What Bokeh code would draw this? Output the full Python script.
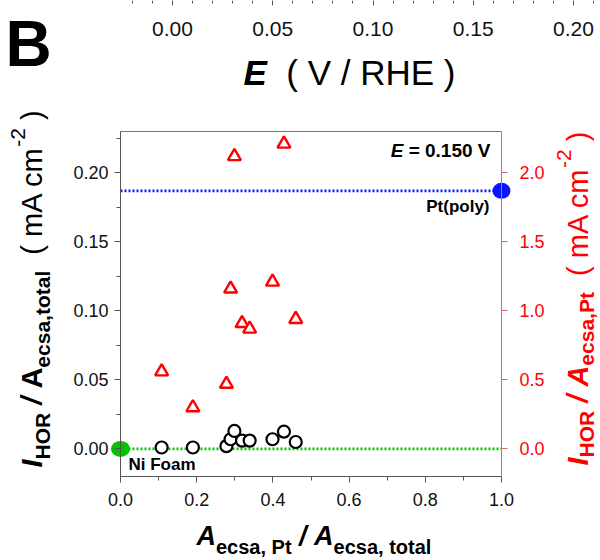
import math
from bokeh.plotting import figure
from bokeh.models import (Range1d, LinearAxis, SingleIntervalTicker, FixedTicker,
                          PrintfTickFormatter, Label)
from bokeh.embed import file_html
from bokeh.resources import INLINE

# ---------------- data ----------------
pt_ratio = [0.108, 0.190, 0.278, 0.289, 0.299, 0.319, 0.339, 0.399, 0.429, 0.460]
i_per_total = [0.001, 0.001, 0.002, 0.007, 0.013, 0.006, 0.006, 0.007, 0.0125, 0.005]
i_per_pt = [0.56, 0.30, 0.47, 1.16, 2.12, 0.91, 0.87, 1.21, 2.21, 0.94]
ref_span_x = [0.0, 1.0]
ni_foam_x = [0.0]
ni_foam_y = [0.0]
pt_poly_x = [1.0]
pt_poly_y = [0.187]
potential_text = "= 0.150 V"
top_axis_bounds = (-0.02, 0.2125)

FONT = "Liberation Sans"
RED = "#ff0000"
GREEN = "#00c400"
BLUE = "#0a14ff"
AX = "#555555"

# ---------------- geometry (page pixels) ----------------
CW, CH = 600, 560
FL, FR, FT, FB = 120, 501, 131, 476          # main plot frame
X0, X1 = 0.0, 1.0
Y0, Y1 = -0.02, 0.23
R0, R1 = -0.2, 2.3
TOP0_PX, TOP_PX_PER_UNIT = 172, 2005         # top strip axis mapping
BASE_FIX = 0.36                               # label anchor -> glyph baseline offset (em)

kx = (FR - FL) / (X1 - X0)
ky = (FB - FT) / (Y1 - Y0)
xr = Range1d(X0 - FL / kx, X1 + (CW - FR) / kx)
yr = Range1d(Y0 - (CH - FB) / ky, Y1 + FT / ky)
kr = (FB - FT) / (R1 - R0)

p = figure(width=CW, height=CH, x_range=xr, y_range=yr, x_axis_type=None, y_axis_type=None,
           output_backend="svg", toolbar_location=None, min_border=0)
p.outline_line_color = None
p.background_fill_color = "white"
p.border_fill_color = "white"
p.extra_y_ranges = {"right": Range1d(R0 - (CH - FB) / kr, R1 + FT / kr)}
p.extra_x_ranges = {"topx": Range1d(-TOP0_PX / TOP_PX_PER_UNIT, (CW - TOP0_PX) / TOP_PX_PER_UNIT)}


def style_axis(a, size="18px", color="#111111", line=AX):
    a.axis_line_color = line
    a.major_tick_line_color = line
    a.minor_tick_line_color = line
    a.major_tick_in = 0
    a.minor_tick_in = 0
    a.major_tick_out = 6
    a.minor_tick_out = 4
    a.major_label_text_font = FONT
    a.major_label_text_font_size = size
    a.major_label_text_color = color


# bottom axis
xa = LinearAxis(fixed_location=Y0, bounds=(X0, X1),
                ticker=SingleIntervalTicker(interval=0.2, num_minor_ticks=2),
                formatter=PrintfTickFormatter(format="%.1f"))
style_axis(xa)
xa.major_label_standoff = 10
p.add_layout(xa, "below")

# left axis
ya = LinearAxis(fixed_location=X0, bounds=(Y0, Y1),
                ticker=SingleIntervalTicker(interval=0.05, num_minor_ticks=2),
                formatter=PrintfTickFormatter(format="%.2f"))
style_axis(ya)
ya.major_label_standoff = 6
p.add_layout(ya, "left")

# right axis (red)
ra = LinearAxis(y_range_name="right", fixed_location=X1, bounds=(R0, R1),
                ticker=SingleIntervalTicker(interval=0.5, num_minor_ticks=0),
                formatter=PrintfTickFormatter(format="%.1f"))
style_axis(ra, color=RED, line="#e06666")
ra.minor_tick_line_color = None
ra.major_label_standoff = 12
p.add_layout(ra, "right")

# top spine
ta = LinearAxis(fixed_location=Y1, bounds=(X0, X1), ticker=FixedTicker(ticks=[]),
                major_label_text_font_size="0px")
ta.axis_line_color = "#777777"
ta.major_tick_out = 0
ta.minor_tick_out = 0
p.add_layout(ta, "above")

# axis of the panel above (only its bottom edge is visible)
topa = LinearAxis(x_range_name="topx", fixed_location=yr.end, bounds=top_axis_bounds,
                  ticker=SingleIntervalTicker(interval=0.05, num_minor_ticks=5),
                  formatter=PrintfTickFormatter(format="%.2f"))
style_axis(topa, size="21px")
topa.axis_line_color = None
topa.major_tick_out = 5
topa.minor_tick_out = 3
topa.major_label_standoff = 16
p.add_layout(topa, "below")

# reference dotted lines
p.line(ref_span_x, [pt_poly_y[0]] * 2, line_color=BLUE, line_width=2.6, line_dash="2 2")
p.line(ref_span_x, [ni_foam_y[0]] * 2, line_color=GREEN, line_width=2.6, line_dash="2 2")

# data
p.scatter(pt_ratio, i_per_total, marker="circle", size=12, fill_color="white",
          line_color="black", line_width=2.2)
p.scatter(pt_ratio, i_per_pt, marker="triangle", size=13, fill_color="white",
          line_color=RED, line_width=2.4, y_range_name="right")

# reference points
p.ellipse(ni_foam_x, ni_foam_y, width=19, height=16, width_units="screen",
          height_units="screen", fill_color=GREEN, line_color=None)
p.ellipse(pt_poly_x, pt_poly_y, width=18, height=16, width_units="screen",
          height_units="screen", fill_color=BLUE, line_color=None)

# ---------------- texts ----------------
W_REG = {' ': 278, '(': 333, ')': 333, '-': 333, ',': 278, '.': 278, '/': 278, '=': 584,
         'A': 667, 'E': 667, 'H': 722, 'I': 278, 'O': 778, 'P': 667, 'R': 722, 'V': 667,
         'a': 556, 'c': 500, 'e': 556, 'l': 222, 'm': 833, 'o': 556, 's': 500, 't': 278}
W_BOLD = {' ': 278, '(': 333, ')': 333, '-': 333, ',': 278, '.': 278, '/': 278, '=': 584,
          'A': 722, 'E': 667, 'H': 722, 'I': 278, 'O': 778, 'P': 667, 'R': 722, 'V': 667,
          'a': 556, 'c': 556, 'e': 556, 'l': 278, 'm': 889, 'o': 611, 's': 556, 't': 333}


def tw(s, size, style):
    tbl = W_BOLD if "bold" in style else W_REG
    return sum(tbl.get(ch, 556) for ch in s) * size / 1000.0


def lab(px, py, text, size, style, color="#000000", align="left", vertical=False):
    # (px, py): wanted start of the glyph baseline, in page pixels
    fix = BASE_FIX * size
    if vertical:
        px -= fix
    else:
        py -= fix
    p.add_layout(Label(x=px, y=CH - py, x_units="screen", y_units="screen",
                       text=text, text_font=FONT, text_font_size=f"{size}px",
                       text_font_style=style, text_color=color,
                       angle=(math.pi / 2 if vertical else 0.0),
                       text_align=align, text_baseline="alphabetic"))


def rich(runs, start, base, color, vertical=False):
    cur = start
    for text, size, style, shift in runs:
        lead = len(text) - len(text.lstrip(" "))
        off = tw(" " * lead, size, style)
        body = text.strip(" ")
        if vertical:
            lab(base + shift, cur - off, body, size, style, color, vertical=True)
            cur -= tw(text, size, style)
        else:
            lab(cur + off, base + shift, body, size, style, color)
            cur += tw(text, size, style)


# panel letter and the axis title of the panel above
lab(5, 67, "B", 64, "bold")
rich([("E", 35, "bold italic", 0), ("  ( V / RHE )", 35, "normal", 0)], 243, 85, "#000000")

# in-plot annotations
rest = " " + potential_text
x_e = 490 - tw("E" + rest, 19, "bold")
rich([("E", 19, "bold italic", 0), (rest, 19, "bold", 0)], x_e, 157, "#000000")
lab(489, 212, "Pt(poly)", 17, "bold", align="right")
lab(128, 470, "Ni Foam", 17, "bold")

M, S = 27, 20          # x title
MY, SY = 29, 21        # y titles
left_runs = [("I", MY, "bold italic", 0), ("HOR", SY, "bold", 8), (" / ", MY, "bold italic", 0),
             ("A", MY, "bold", 0), ("ecsa,total", SY, "bold", 8), ("  ( mA cm", MY, "normal", 0),
             ("-2", SY, "normal", -17), (" )", MY, "normal", 0)]
right_runs = [("I", MY, "bold italic", 0), ("HOR", SY, "bold", 6), (" / ", MY, "bold italic", 0),
              ("A", MY, "bold italic", 0), ("ecsa,Pt", SY, "bold", 6), ("  ( mA cm", MY, "normal", 0),
              ("-2", SY, "normal", -17), (" )", MY, "normal", 0)]
x_runs = [("A", M, "bold italic", 0), ("ecsa, Pt", S, "bold", 9), (" / ", M, "bold italic", 0),
          ("A", M, "bold italic", 0), ("ecsa, total", S, "bold", 9)]

rich(left_runs, 467, 42, "#000000", vertical=True)
rich(right_runs, 465, 588, RED, vertical=True)
rich(x_runs, 196, 545, "#000000")

open("out.html", "w").write(file_html(p, INLINE))
